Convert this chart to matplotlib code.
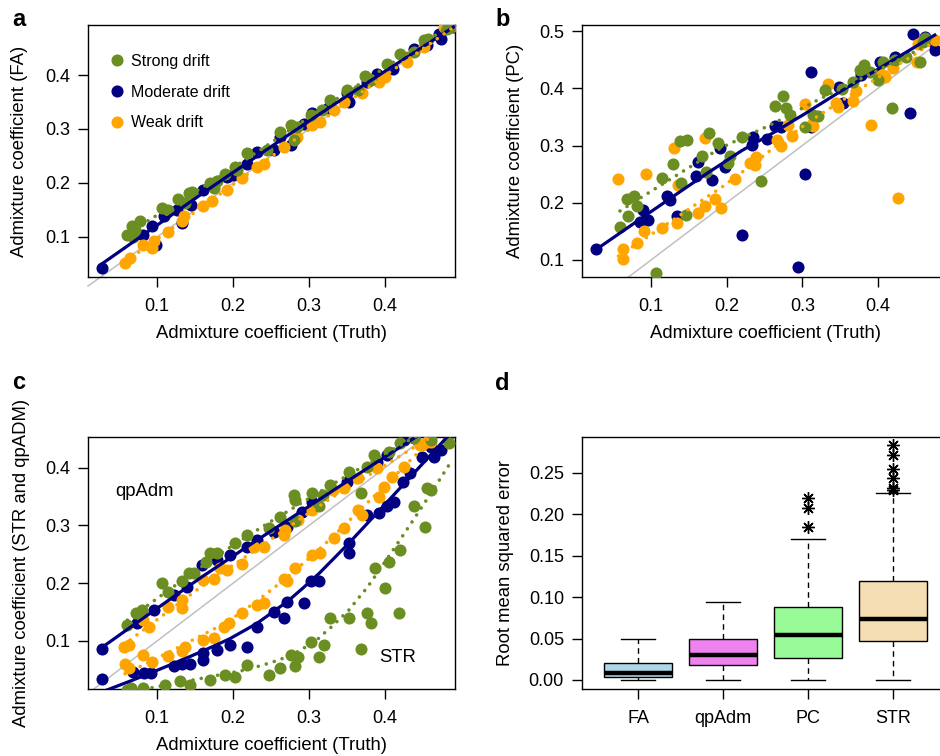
import numpy as np
import matplotlib
matplotlib.use("Agg")
import matplotlib.pyplot as plt
from matplotlib.lines import Line2D

plt.rcParams['font.family'] = ['Liberation Sans', 'DejaVu Sans']

GREEN = '#6B8E23'
NAVY = '#000080'
ORANGE = '#FFA500'
GREY = '#C0C0C0'
MS = 8.7

# ---------------- Panel a (FA) ----------------
a_green_x = [0.060,0.069,0.078,0.067,0.071,0.107,0.115,0.128,0.137,0.142,0.146,0.170,0.175,0.179,0.190,0.203,0.205,0.218,0.245,0.262,0.276,0.284,0.280,0.302,0.317,0.328,0.350,0.365,0.374,0.381,0.403,0.420,0.438,0.451,0.457,0.482,0.488]
a_green_y = [0.104,0.100,0.129,0.120,0.113,0.153,0.150,0.170,0.163,0.181,0.184,0.200,0.190,0.203,0.217,0.230,0.224,0.256,0.262,0.295,0.307,0.304,0.279,0.326,0.335,0.353,0.372,0.372,0.399,0.390,0.421,0.439,0.442,0.464,0.467,0.485,0.490]
a_navy_x = [0.028,0.082,0.093,0.098,0.109,0.126,0.133,0.145,0.161,0.192,0.200,0.218,0.232,0.254,0.262,0.276,0.293,0.304,0.325,0.350,0.352,0.376,0.389,0.411,0.438,0.455,0.473,0.471,0.490]
a_navy_y = [0.043,0.104,0.120,0.086,0.138,0.150,0.126,0.160,0.187,0.212,0.215,0.236,0.258,0.261,0.286,0.270,0.310,0.329,0.338,0.366,0.350,0.387,0.402,0.412,0.448,0.455,0.467,0.476,0.488]
a_orange_x = [0.058,0.064,0.082,0.093,0.096,0.115,0.133,0.135,0.161,0.172,0.192,0.212,0.232,0.241,0.267,0.284,0.304,0.315,0.333,0.346,0.370,0.392,0.400,0.429,0.451,0.477,0.490]
a_orange_y = [0.052,0.061,0.086,0.080,0.092,0.110,0.129,0.138,0.157,0.166,0.187,0.209,0.230,0.236,0.267,0.286,0.307,0.313,0.335,0.350,0.366,0.387,0.396,0.424,0.452,0.488,0.490]

# ---------------- Panel b (PC) ----------------
b_navy_x = [0.027,0.090,0.096,0.085,0.121,0.125,0.134,0.160,0.162,0.180,0.191,0.198,0.220,0.233,0.235,0.253,0.264,0.272,0.294,0.303,0.312,0.312,0.349,0.354,0.378,0.402,0.422,0.442,0.446,0.462,0.475,0.473]
b_navy_y = [0.119,0.187,0.170,0.167,0.211,0.205,0.177,0.246,0.272,0.240,0.295,0.263,0.144,0.301,0.315,0.311,0.334,0.333,0.087,0.250,0.332,0.429,0.402,0.374,0.423,0.446,0.455,0.356,0.494,0.490,0.467,0.481]
b_green_x = [0.059,0.068,0.077,0.082,0.070,0.107,0.115,0.129,0.138,0.147,0.140,0.146,0.168,0.173,0.177,0.189,0.204,0.202,0.220,0.246,0.264,0.275,0.279,0.284,0.303,0.314,0.321,0.330,0.352,0.367,0.376,0.382,0.389,0.400,0.407,0.418,0.422,0.437,0.455,0.459,0.462]
b_green_y = [0.157,0.206,0.211,0.194,0.176,0.077,0.244,0.267,0.307,0.310,0.235,0.179,0.282,0.253,0.322,0.304,0.282,0.270,0.314,0.238,0.369,0.386,0.365,0.353,0.333,0.353,0.352,0.397,0.398,0.411,0.432,0.441,0.429,0.414,0.446,0.365,0.449,0.455,0.446,0.480,0.487]
b_orange_x = [0.057,0.063,0.063,0.082,0.091,0.093,0.114,0.130,0.135,0.136,0.162,0.171,0.172,0.184,0.193,0.211,0.231,0.237,0.239,0.266,0.272,0.281,0.286,0.303,0.314,0.334,0.345,0.347,0.367,0.371,0.391,0.402,0.409,0.420,0.426,0.451,0.453,0.475]
b_orange_y = [0.241,0.119,0.101,0.129,0.151,0.250,0.156,0.295,0.165,0.231,0.182,0.313,0.194,0.207,0.190,0.241,0.269,0.266,0.280,0.310,0.300,0.336,0.317,0.372,0.334,0.407,0.374,0.367,0.377,0.396,0.336,0.426,0.420,0.435,0.208,0.446,0.478,0.485]

# ---------------- Panel c (qpAdm and STR) ----------------
cq_navy_x = [0.028,0.074,0.096,0.122,0.139,0.159,0.179,0.196,0.218,0.232,0.254,0.271,0.291,0.304,0.350,0.389,0.403,0.425,0.438,0.470]
cq_navy_y = [0.087,0.131,0.154,0.180,0.194,0.232,0.240,0.249,0.263,0.275,0.289,0.298,0.324,0.341,0.376,0.410,0.422,0.448,0.451,0.475]
cq_green_x = [0.061,0.072,0.080,0.107,0.115,0.133,0.142,0.148,0.170,0.179,0.164,0.203,0.218,0.247,0.262,0.280,0.282,0.282,0.304,0.313,0.319,0.328,0.352,0.368,0.376,0.385,0.405,0.420,0.438,0.460]
cq_green_y = [0.128,0.148,0.154,0.201,0.185,0.203,0.217,0.217,0.253,0.252,0.237,0.269,0.283,0.295,0.315,0.353,0.344,0.307,0.356,0.333,0.353,0.370,0.393,0.356,0.402,0.422,0.428,0.442,0.451,0.448]
cq_orange_x = [0.056,0.063,0.082,0.089,0.115,0.133,0.133,0.161,0.175,0.183,0.192,0.212,0.227,0.241,0.267,0.269,0.286,0.304,0.332,0.346,0.365,0.389,0.446,0.460]
cq_orange_y = [0.090,0.093,0.136,0.125,0.159,0.171,0.157,0.206,0.208,0.226,0.223,0.234,0.263,0.263,0.283,0.292,0.309,0.327,0.361,0.364,0.382,0.399,0.439,0.445]

cs_orange_x = [0.058,0.063,0.082,0.093,0.115,0.133,0.137,0.161,0.175,0.188,0.195,0.212,0.232,0.241,0.267,0.271,0.282,0.304,0.315,0.333,0.346,0.365,0.370,0.392,0.398,0.409,0.425,0.449,0.455]
cs_orange_y = [0.061,0.053,0.076,0.064,0.074,0.082,0.090,0.102,0.105,0.125,0.131,0.148,0.162,0.165,0.208,0.203,0.226,0.249,0.252,0.278,0.295,0.327,0.318,0.350,0.367,0.384,0.402,0.439,0.445]
cs_navy_x = [0.028,0.069,0.083,0.092,0.122,0.133,0.144,0.161,0.161,0.179,0.196,0.218,0.232,0.254,0.267,0.271,0.293,0.302,0.313,0.352,0.352,0.376,0.392,0.403,0.412,0.423,0.433,0.449,0.464,0.473,0.460,0.488]
cs_navy_y = [0.034,0.047,0.044,0.044,0.056,0.061,0.061,0.079,0.067,0.084,0.093,0.090,0.125,0.151,0.139,0.168,0.165,0.203,0.203,0.252,0.269,0.318,0.321,0.333,0.341,0.376,0.390,0.419,0.419,0.431,0.436,0.462]
cs_green_x = [0.061,0.066,0.082,0.110,0.130,0.144,0.170,0.190,0.203,0.218,0.247,0.262,0.276,0.282,0.286,0.302,0.313,0.320,0.328,0.352,0.368,0.376,0.381,0.387,0.400,0.405,0.418,0.420,0.438,0.453,0.455,0.461,0.484]
cs_green_y = [0.015,0.018,0.018,0.024,0.030,0.024,0.033,0.041,0.038,0.058,0.041,0.053,0.076,0.056,0.073,0.099,0.073,0.093,0.139,0.139,0.087,0.148,0.131,0.226,0.191,0.237,0.148,0.258,0.333,0.298,0.364,0.361,0.442]

# ---------------- Panel d (RMSE boxplots) ----------------
d_methods = ['FA', 'qpAdm', 'PC', 'STR']
d_colors = ['#ADD8E6', '#EE82EE', '#98FB98', '#F5DEB3']
d_whislo = [0.000, 0.000, 0.000, 0.000]
d_q1 = [0.003, 0.018, 0.026, 0.047]
d_med = [0.008, 0.030, 0.054, 0.074]
d_q3 = [0.021, 0.049, 0.088, 0.119]
d_whishi = [0.049, 0.094, 0.170, 0.226]
d_fliers = [[], [], [0.185, 0.207, 0.219], [0.229, 0.231, 0.243, 0.254, 0.271, 0.283]]


def lowess(x, y, f=2/3, iters=3):
    x = np.asarray(x, float)
    y = np.asarray(y, float)
    o = np.argsort(x)
    x, y = x[o], y[o]
    n = len(x)
    r = int(np.ceil(f * n))
    yest = np.zeros(n)
    delta = np.ones(n)
    for _ in range(iters + 1):
        for i in range(n):
            d = np.abs(x - x[i])
            h = np.sort(d)[r - 1]
            w = np.clip(d / h, 0, 1)
            w = (1 - w ** 3) ** 3 * delta
            A = np.array([[w.sum(), (w * x).sum()], [(w * x).sum(), (w * x * x).sum()]])
            b = np.array([(w * y).sum(), (w * x * y).sum()])
            beta = np.linalg.solve(A, b)
            yest[i] = beta[0] + beta[1] * x[i]
        res = y - yest
        s = np.median(np.abs(res))
        if s == 0:
            break
        u = np.clip(res / (6 * s), -1, 1)
        delta = (1 - u ** 2) ** 2
    return x, yest


def series(ax, x, y, color):
    ax.plot(x, y, 'o', color=color, ms=MS, mew=0, zorder=3)


def fit(ax, x, y, color, solid):
    fx, fy = lowess(x, y)
    if solid:
        ax.plot(fx, fy, '-', color=color, lw=2.3, zorder=4)
    else:
        ax.plot(fx, fy, color=color, lw=2.6, linestyle=(0, (0.01, 2.3)),
                dash_capstyle='round', zorder=4)


def style(ax):
    for s in ax.spines.values():
        s.set_linewidth(1.0)
    ax.tick_params(direction='out', length=7, width=1, labelsize=13)
    ax.tick_params(axis='y', pad=6)
    ax.tick_params(axis='x', pad=8)


W, H = 940, 756
fig = plt.figure(figsize=(W / 100, H / 100), dpi=100)

def pos(l, t, r, b):
    return [l / W, 1 - b / H, (r - l) / W, (b - t) / H]

axa = fig.add_axes(pos(88, 25, 455, 277))
axb = fig.add_axes(pos(582, 25, 949, 277))
axc = fig.add_axes(pos(88, 437, 455, 689))
axd = fig.add_axes(pos(582, 437, 949, 689))

XL = (0.0092, 0.492)

# Panel a
axa.set_xlim(*XL)
axa.set_ylim(0.0259, 0.4926)
axa.plot(XL, XL, color=GREY, lw=1.1, zorder=2, clip_on=False)
groups_a = [(a_navy_x, a_navy_y, NAVY, True), (a_orange_x, a_orange_y, ORANGE, False),
            (a_green_x, a_green_y, GREEN, False)]
for x, y, c, s in groups_a:
    series(axa, x, y, c)
for x, y, c, s in groups_a:
    fit(axa, x, y, c, s)
axa.set_xticks([0.1, 0.2, 0.3, 0.4])
axa.set_xticklabels(['0.1', '0.2', '0.3', '0.4'])
axa.set_yticks([0.1, 0.2, 0.3, 0.4])
axa.set_yticklabels(['0.1', '0.2', '0.3', '0.4'])
axa.set_xlabel('Admixture coefficient (Truth)', fontsize=13.3)
axa.set_ylabel('Admixture coefficient (FA)', fontsize=13.3)
handles = [Line2D([], [], marker='o', ls='none', color=GREEN, ms=MS, mew=0),
           Line2D([], [], marker='o', ls='none', color=NAVY, ms=MS, mew=0),
           Line2D([], [], marker='o', ls='none', color=ORANGE, ms=MS, mew=0)]
axa.legend(handles, ['Strong drift', 'Moderate drift', 'Weak drift'], loc='upper left',
           bbox_to_anchor=(0.066, 0.885), frameon=False, fontsize=11.5, borderpad=0,
           borderaxespad=0, handlelength=0.6, handletextpad=0.55, labelspacing=0.98)

# Panel b
axb.set_xlim(0.0088, 0.4938)
axb.set_ylim(0.0703, 0.5105)
axb.plot([0, 0.6], [0, 0.6], color=GREY, lw=1.1, zorder=2)
groups_b = [(b_navy_x, b_navy_y, NAVY, True), (b_orange_x, b_orange_y, ORANGE, False),
            (b_green_x, b_green_y, GREEN, False)]
for x, y, c, s in groups_b:
    series(axb, x, y, c)
for x, y, c, s in groups_b:
    fit(axb, x, y, c, s)
axb.set_xticks([0.1, 0.2, 0.3, 0.4])
axb.set_xticklabels(['0.1', '0.2', '0.3', '0.4'])
axb.set_yticks([0.1, 0.2, 0.3, 0.4, 0.5])
axb.set_yticklabels(['0.1', '0.2', '0.3', '0.4', '0.5'])
axb.set_xlabel('Admixture coefficient (Truth)', fontsize=13.3)
axb.set_ylabel('Admixture coefficient (PC)', fontsize=13.3)

# Panel c
axc.set_xlim(*XL)
axc.set_ylim(0.0169, 0.4531)
axc.plot(XL, XL, color=GREY, lw=1.1, zorder=2)
groups_c = [(cq_navy_x, cq_navy_y, NAVY, True), (cs_navy_x, cs_navy_y, NAVY, True),
            (cq_orange_x, cq_orange_y, ORANGE, False), (cs_orange_x, cs_orange_y, ORANGE, False),
            (cq_green_x, cq_green_y, GREEN, False), (cs_green_x, cs_green_y, GREEN, False)]
for x, y, c, s in groups_c:
    series(axc, x, y, c)
for x, y, c, s in groups_c:
    fit(axc, x, y, c, s)
axc.set_xticks([0.1, 0.2, 0.3, 0.4])
axc.set_xticklabels(['0.1', '0.2', '0.3', '0.4'])
axc.set_yticks([0.1, 0.2, 0.3, 0.4])
axc.set_yticklabels(['0.1', '0.2', '0.3', '0.4'])
axc.set_xlabel('Admixture coefficient (Truth)', fontsize=13.3)
axc.set_ylabel('Admixture coefficient (STR and qpADM)', fontsize=13.3)
axc.text(0.0447, 0.358, 'qpAdm', fontsize=13.3, ha='left', va='center')
axc.text(0.3925, 0.071, 'STR', fontsize=13.3, ha='left', va='center')

# Panel d
stats = []
for i, m in enumerate(d_methods):
    stats.append(dict(label=m, whislo=d_whislo[i], q1=d_q1[i], med=d_med[i],
                      q3=d_q3[i], whishi=d_whishi[i], fliers=d_fliers[i]))
bp = axd.bxp(stats, positions=[1, 2, 3, 4], widths=0.8, capwidths=0.4, patch_artist=True,
             boxprops=dict(edgecolor='black', linewidth=1.0),
             whiskerprops=dict(color='black', linewidth=1.0, linestyle=(0, (4, 3))),
             capprops=dict(color='black', linewidth=1.0),
             medianprops=dict(color='black', linewidth=3.2, solid_capstyle='butt'),
             flierprops=dict(marker=(8, 2, 0), markersize=9, markeredgecolor='black',
                             markeredgewidth=1.0, linestyle='none'))
for patch, col in zip(bp['boxes'], d_colors):
    patch.set_facecolor(col)
axd.set_xlim(0.34, 4.66)
axd.set_ylim(-0.0109, 0.293)
axd.set_yticks([0.0, 0.05, 0.10, 0.15, 0.20, 0.25])
axd.set_yticklabels(['0.00', '0.05', '0.10', '0.15', '0.20', '0.25'])
axd.set_xticks([1, 2, 3, 4])
axd.set_xticklabels(d_methods)
axd.set_ylabel('Root mean squared error', fontsize=13.3)

for ax in (axa, axb, axc, axd):
    style(ax)

for ax in (axa, axb, axc):
    ax.xaxis.set_label_coords(0.5, -56 / 252)
    ax.xaxis.label.set_va('center')
axa.yaxis.set_label_coords(-68 / 367, 0.5)
axb.yaxis.set_label_coords(-67 / 367, 0.5)
axc.yaxis.set_label_coords(-66 / 367, 0.5)
axd.yaxis.set_label_coords(-77 / 367, 0.5)
for ax in (axa, axb, axc, axd):
    ax.yaxis.label.set_va('center')

for letter, x, y in [('a', 12, 26), ('b', 495, 26.5), ('c', 12, 389), ('d', 495, 390.5)]:
    fig.text(x / W, 1 - y / H, letter, fontsize=17, fontweight='bold', ha='left', va='baseline')

fig.savefig('out.png', dpi=100)
